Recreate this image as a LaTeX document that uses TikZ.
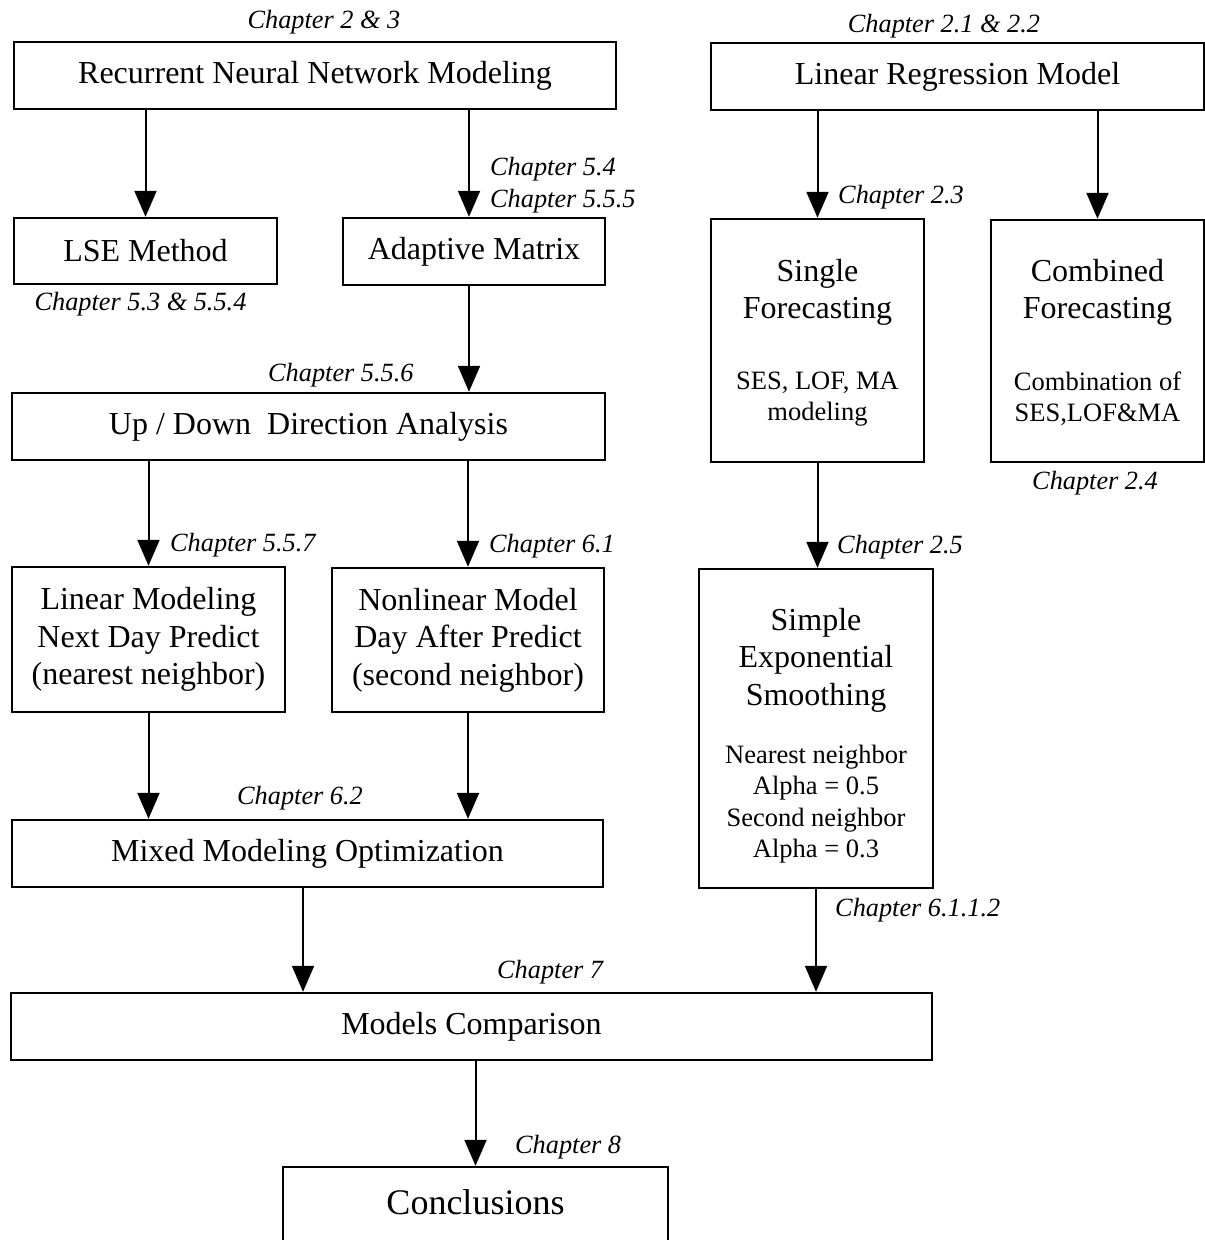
\documentclass[tikz,border=0pt]{standalone}
\usepackage{fontspec}
\setmainfont{Liberation Serif}
\usetikzlibrary{arrows.meta,calc}
\newcommand\mainfs{\fontsize{32}{37.5}\selectfont}
\newcommand\subfs{\fontsize{26.5}{31.3}\selectfont}
\newcommand\chapfs{\fontsize{26.3}{31}\selectfont\itshape}
\newcommand\bigfs{\fontsize{36}{42}\selectfont}
\begin{document}
\begin{tikzpicture}[x=1pt,y=-1pt,
  box/.style={draw, line width=2.4pt, align=center, font=\mainfs, inner sep=0pt},
  title/.style={align=center, font=\mainfs, inner sep=0pt},
  sub/.style={align=center, font=\subfs, inner sep=0pt},
  chap/.style={font=\chapfs, inner sep=0pt},
  arr/.style={line width=2pt, -{Triangle[length=26pt,width=22pt]}}]
\useasboundingbox (0,0) rectangle (1205,1240);
\fill[white] (0,0) rectangle (1205,1240);
\clip (0,0) rectangle (1205,1240);

% boxes
\node[box, minimum width=602, minimum height=67] (rnn) at (315,75.5) {Recurrent Neural Network Modeling};
\node[box, minimum width=493, minimum height=67] (lr) at (957.5,76.5) {Linear Regression Model};
\node[box, minimum width=263, minimum height=66] (lse) at (145.5,251) {LSE Method};
\node[box, minimum width=262, minimum height=67] (adapt) at (474,251.5) {Adaptive Matrix};
\node[box, minimum width=213, minimum height=243] (single) at (817.5,340.5) {};
\node[title] (singlet) at (817.5,292.5) {Single\\Forecasting};
\node[sub] (singles) at (817.5,399) {SES, LOF, MA\\modeling};
\node[box, minimum width=213, minimum height=242] (comb) at (1097.5,341) {};
\node[title] (combt) at (1097.5,292.5) {Combined\\Forecasting};
\node[sub] (combs) at (1097.5,398.5) {Combination of\\SES,LOF\&MA};
\node[box, minimum width=593, minimum height=67] (updown) at (308.5,426.5) {Up / Down\ \ Direction Analysis};
\node[box, minimum width=273, minimum height=145] (linmod) at (148.5,639.5) {Linear Modeling\\Next Day Predict\\(nearest neighbor)};
\node[box, minimum width=272, minimum height=144] (nonlin) at (468,640) {Nonlinear Model\\Day After Predict\\(second neighbor)};
\node[box, minimum width=234, minimum height=319] (ses) at (816,728.5) {};
\node[title] (sest) at (816,660) {Simple\\Exponential\\Smoothing};
\node[sub] (sess) at (816,804) {Nearest neighbor\\Alpha = 0.5\\Second neighbor\\Alpha = 0.3};
\node[box, minimum width=591, minimum height=67] (mixed) at (307.5,853.5) {Mixed Modeling Optimization};
\node[box, minimum width=921, minimum height=67] (models) at (471.5,1026.5) {Models Comparison};
\node[box, minimum width=385, minimum height=100] (concl) at (475.5,1217) {};
\node[font=\bigfs, inner sep=0pt] (conclt) at (475.5,1202) {Conclusions};

% connectors
\coordinate (adaptin) at ($(adapt.north)+(-5,0)$);
\coordinate (adaptout) at ($(adapt.south)+(-5,0)$);
\coordinate (mixout) at ($(mixed.south)+(-4.5,0)$);
\draw[arr] (rnn.south -| lse.north) -- (lse.north);
\draw[arr] (rnn.south -| adaptin) -- (adaptin);
\draw[arr] (lr.south -| single.north) -- (single.north);
\draw[arr] (lr.south -| comb.north) -- (comb.north);
\draw[arr] (adaptout) -- (updown.north -| adaptout);
\draw[arr] (updown.south -| linmod.north) -- (linmod.north);
\draw[arr] (updown.south -| nonlin.north) -- (nonlin.north);
\draw[arr] (single.south) -- (single.south |- ses.north);
\draw[arr] (linmod.south) -- (mixed.north -| linmod.south);
\draw[arr] (nonlin.south) -- (mixed.north -| nonlin.south);
\draw[arr] (mixout) -- (models.north -| mixout);
\draw[arr] (ses.south) -- (models.north -| ses.south);
\draw[arr] (models.south -| concl.north) -- (concl.north);

% chapter references
\node[chap] (c23) at (324,22) {Chapter 2 \& 3};
\node[chap] (c2122) at (944,26) {Chapter 2.1 \& 2.2};
\node[chap, anchor=west] (c54) at (490,169) {Chapter 5.4};
\node[chap, anchor=west] (c555) at (490,201) {Chapter 5.5.5};
\node[chap, anchor=west] (c23b) at (838,197) {Chapter 2.3};
\node[chap] (c53) at (140.5,304) {Chapter 5.3 \& 5.5.4};
\node[chap, anchor=west] (c556) at (268,375) {Chapter 5.5.6};
\node[chap, anchor=west] (c24) at (1032,483) {Chapter 2.4};
\node[chap, anchor=west] (c557) at (170,545) {Chapter 5.5.7};
\node[chap, anchor=west] (c61) at (489,546) {Chapter 6.1};
\node[chap, anchor=west] (c25) at (837,547) {Chapter 2.5};
\node[chap, anchor=west] (c62) at (237,798) {Chapter 6.2};
\node[chap, anchor=west] (c6112) at (835,910) {Chapter 6.1.1.2};
\node[chap, anchor=west] (c7) at (497,972) {Chapter 7};
\node[chap, anchor=west] (c8) at (515,1147) {Chapter 8};
\end{tikzpicture}
\end{document}
